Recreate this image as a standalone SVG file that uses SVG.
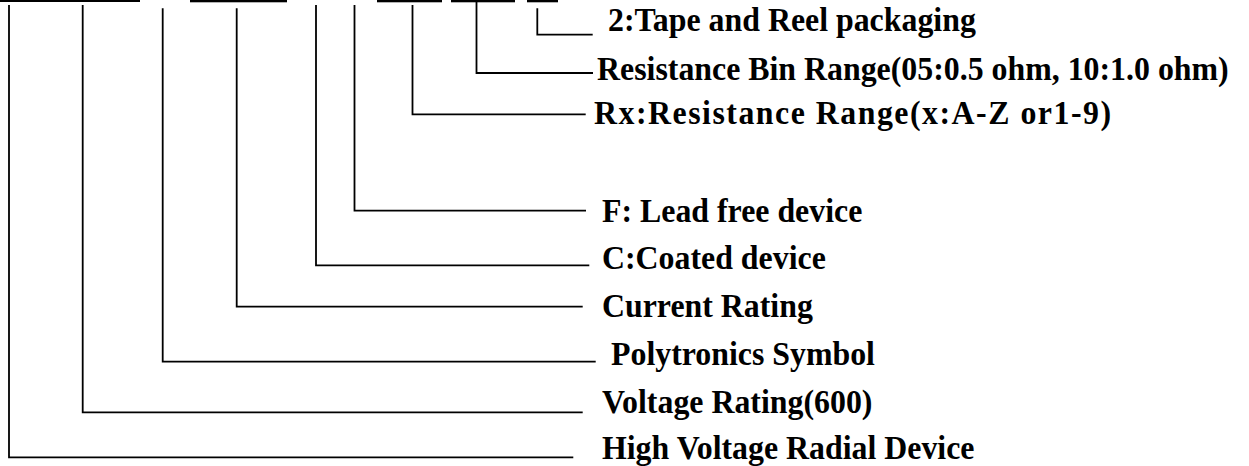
<svg xmlns="http://www.w3.org/2000/svg" width="1249" height="466" viewBox="0 0 1249 466">
<style>
.ln{stroke:#000;stroke-width:1.8;fill:none}
.bar{fill:#000}
.lbl{font-family:"Liberation Serif","Times New Roman",serif;font-weight:bold;font-size:34px;fill:#000}
</style>
<rect width="1249" height="466" fill="#fff"/>
<g id="code-bars">
<rect class="bar" x="0" y="0" width="140" height="2"/>
<rect class="bar" x="190" y="0" width="97" height="2.3"/>
<rect class="bar" x="377" y="0" width="65" height="2.3"/>
<rect class="bar" x="451" y="0" width="64" height="2.3"/>
<rect class="bar" x="527" y="0" width="31" height="2.3"/>
</g>
<g id="connectors">
<polyline class="ln" points="537.3,8.3 537.3,34.7 592.7,34.7"/>
<polyline class="ln" points="476.5,2 476.5,73 593,73"/>
<polyline class="ln" points="412.5,5 412.5,114.3 585.7,114.3"/>
<polyline class="ln" points="354.5,5 354.5,210.7 586,210.7"/>
<polyline class="ln" points="316,5 316,265.3 589.3,265.3"/>
<polyline class="ln" points="236.7,8.3 236.7,306.7 582.7,306.7"/>
<polyline class="ln" points="162.7,8.3 162.7,361.7 595.7,361.7"/>
<polyline class="ln" points="82.7,5 82.7,412.3 582.7,412.3"/>
<polyline class="ln" points="9,5 9,457.3 573.3,457.3"/>
</g>
<g id="n-tape"><text class="lbl" transform="translate(608 31) scale(0.937 1)">2:Tape and Reel packaging</text></g>
<g id="n-bin"><text class="lbl" transform="translate(597 80) scale(0.937 1)">Resistance Bin Range(05:0.5 ohm, 10:1.0 ohm)</text></g>
<g id="n-rx"><text class="lbl" transform="translate(594 124) scale(0.937 1)" letter-spacing="1.6">Rx:Resistance Range(x:A-Z or1-9)</text></g>
<g id="n-f"><text class="lbl" transform="translate(602 221.5) scale(0.937 1)">F: Lead free device</text></g>
<g id="n-c"><text class="lbl" transform="translate(602 269) scale(0.937 1)">C:Coated device</text></g>
<g id="n-current"><text class="lbl" transform="translate(602 317) scale(0.937 1)">Current Rating</text></g>
<g id="n-poly"><text class="lbl" transform="translate(611 365) scale(0.937 1)">Polytronics Symbol</text></g>
<g id="n-voltage"><text class="lbl" transform="translate(602 413) scale(0.937 1)">Voltage Rating(600)</text></g>
<g id="n-high"><text class="lbl" transform="translate(602 459) scale(0.937 1)">High Voltage Radial Device</text></g>
</svg>
